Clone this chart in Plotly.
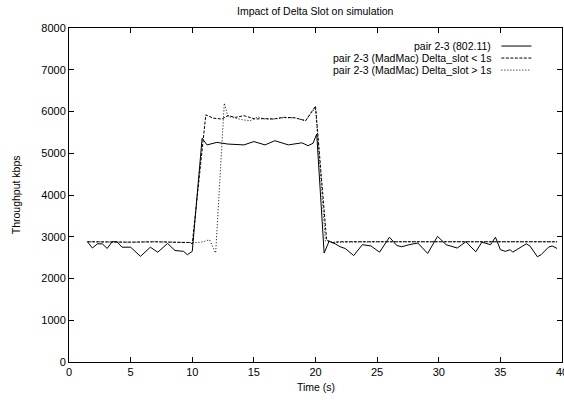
import plotly.graph_objects as go

# ---- data ----
t_80211 = [1.5, 1.9, 2.3, 2.7, 3.1, 3.5, 3.9, 4.3, 5.0, 5.8, 6.6, 7.2, 8.0, 8.6, 9.3, 9.6, 10.0,
           10.8, 11.2, 12.0, 12.9, 14.2, 15.0, 15.9, 16.7, 17.8, 18.9, 19.4, 19.8, 20.1,
           20.7, 21.1, 21.6, 22.0, 22.4, 23.1, 23.8, 24.5, 25.2, 26.0, 26.6, 27.0, 27.6, 28.3,
           29.1, 29.9, 30.6, 31.5, 32.2, 33.0, 33.5, 34.2, 34.6, 35.0, 35.4, 35.8, 36.0, 37.1,
           37.4, 38.0, 38.3, 38.9, 39.2, 39.6]
v_80211 = [2880, 2730, 2830, 2830, 2720, 2880, 2880, 2750, 2750, 2530, 2750, 2630, 2840, 2670, 2650, 2570, 2650,
           5360, 5200, 5260, 5220, 5200, 5280, 5200, 5300, 5200, 5250, 5180, 5240, 5460,
           2610, 2890, 2830, 2760, 2720, 2550, 2810, 2780, 2630, 2990, 2790, 2760, 2810, 2850,
           2600, 3010, 2810, 2730, 2880, 2640, 2870, 2810, 2990, 2690, 2650, 2690, 2630, 2830,
           2780, 2520, 2570, 2750, 2780, 2720]

t_lt1 = [1.5, 3.0, 5.0, 7.0, 8.0, 9.0, 9.8, 10.0,
         11.1, 11.7, 12.4, 12.9, 13.5, 14.2, 15.1, 15.9, 16.6, 17.4, 18.3, 19.2, 20.0,
         20.9, 21.4, 21.9, 25.0, 28.0, 31.0, 34.0, 37.0, 39.6]
v_lt1 = [2880, 2870, 2870, 2880, 2870, 2870, 2860, 2830,
         5920, 5840, 5820, 5900, 5860, 5900, 5820, 5830, 5820, 5860, 5850, 5780, 6130,
         2920, 2860, 2880, 2880, 2880, 2880, 2880, 2880, 2880]

t_gt1 = [1.5, 3.0, 5.0, 7.0, 9.0, 9.9, 10.4, 10.9, 11.4, 11.9,
         12.6, 12.9, 13.4, 14.1, 14.7, 15.3, 15.9, 16.6, 17.4, 18.3, 19.2, 20.0,
         20.8, 21.4, 25.0, 30.0, 35.0, 39.6]
v_gt1 = [2880, 2870, 2870, 2880, 2870, 2870, 2860, 2880, 2930, 2610,
         6200, 5880, 5840, 5800, 5780, 5870, 5820, 5820, 5850, 5850, 5780, 6100,
         2900, 2870, 2880, 2880, 2880, 2880]

series_names = ["pair 2-3 (802.11)",
                "pair 2-3 (MadMac) Delta_slot < 1s",
                "pair 2-3 (MadMac) Delta_slot > 1s"]
x_ticks = [0, 5, 10, 15, 20, 25, 30, 35, 40]
y_ticks = [0, 1000, 2000, 3000, 4000, 5000, 6000, 7000, 8000]

FONT = "Liberation Sans, Arial, sans-serif"
dashes = ["solid", "3px,1.5px", "1px,2px"]

fig = go.Figure()
for t, v, name, d in zip([t_80211, t_lt1, t_gt1], [v_80211, v_lt1, v_gt1], series_names, dashes):
    fig.add_trace(go.Scatter(x=t, y=v, mode="lines", name=name,
                             line=dict(color="black", width=1, dash=d), showlegend=False))

# gnuplot-style key (text right-aligned, sample on the right)
rows_y = [0.946, 0.910, 0.874]
for name, d, yy in zip(series_names, dashes, rows_y):
    fig.add_annotation(xref="paper", yref="paper", x=0.861, y=yy, text=name, showarrow=False,
                       xanchor="right", yanchor="middle", font=dict(family=FONT, size=10.5, color="black"))
    fig.add_shape(type="line", xref="paper", yref="paper", x0=0.877, x1=0.938, y0=yy, y1=yy,
                  line=dict(color="black", width=1, dash=d))

fig.add_annotation(xref="paper", yref="paper", x=0.5, y=-0.076, text="Time (s)", showarrow=False,
                   xanchor="center", yanchor="middle", font=dict(family=FONT, size=10.5, color="black"))
fig.add_annotation(xref="paper", yref="paper", x=-0.107, y=0.5, text="Throughput kbps", showarrow=False,
                   textangle=-90, xanchor="center", yanchor="middle",
                   font=dict(family=FONT, size=10.5, color="black"))
fig.add_annotation(xref="paper", yref="paper", x=0.5, y=1.051, text="Impact of Delta Slot on simulation",
                   showarrow=False, xanchor="center", yanchor="middle",
                   font=dict(family=FONT, size=10.5, color="black"))

axis_common = dict(showline=True, linecolor="black", linewidth=1, mirror="allticks",
                   ticks="inside", ticklen=5, tickcolor="black", showgrid=False, zeroline=False,
                   tickfont=dict(family=FONT, size=11, color="black"), automargin=False,
                   ticklabeloverflow="allow")

fig.update_layout(
    width=564, height=400,
    margin=dict(l=69, r=1.5, t=28, b=37.5),
    paper_bgcolor="white", plot_bgcolor="white",
    xaxis=dict(range=[0, 40], tickvals=x_ticks, ticktext=[str(v) for v in x_ticks], **axis_common),
    yaxis=dict(range=[0, 8000], tickvals=y_ticks, ticktext=[str(v) for v in y_ticks], **axis_common),
)

fig.write_html("out.html", config={"displayModeBar": False},
               post_script="document.body.style.margin='0';")
